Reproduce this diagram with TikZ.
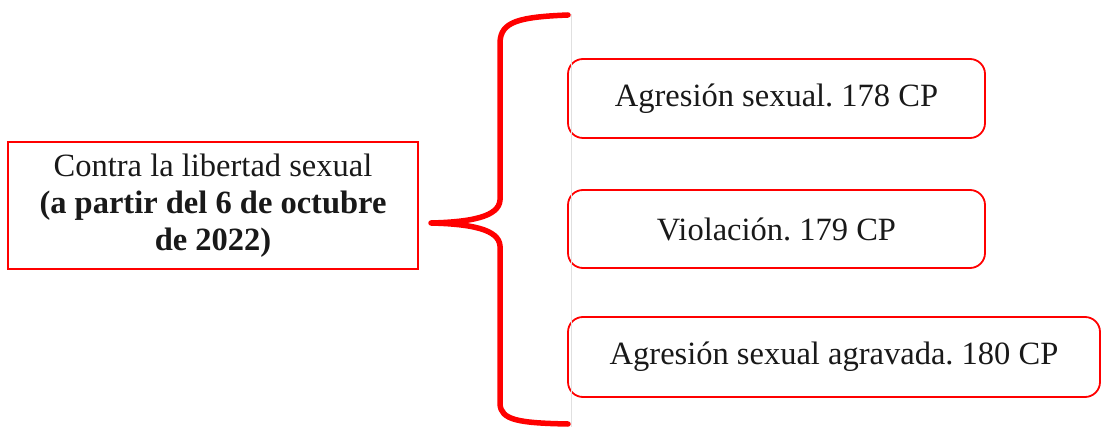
\documentclass[tikz,border=0pt]{standalone}
\usepackage{fontspec}
\setmainfont{Liberation Serif}
\definecolor{brred}{RGB}{255,0,0}
\definecolor{ink}{RGB}{25,25,25}
\begin{document}
\frenchspacing
\begin{tikzpicture}[x=1pt,y=-1pt,
  txt/.style={font=\fontsize{32.5}{37}\selectfont, text=ink, align=center},
  mainbox/.style={txt, draw=brred, line width=1.8pt, inner sep=0pt},
  itembox/.style={txt, draw=brred, line width=1.8pt, rounded corners=15pt, inner sep=0pt},
  bracestroke/.style={draw=brred, line width=5.5pt, line cap=round, line join=round},
  guide/.style={draw=black!12, line width=0.8pt}]
\useasboundingbox (0,0) rectangle (1102,427);

% left box: the crime category
\node[mainbox, minimum width=410pt, minimum height=127pt] (cat) at (213,205.5)
  {Contra la libertad sexual\\\textbf{(a partir del 6 de octubre}\\\textbf{de 2022)}};

% right boxes: the articles
\node[itembox, minimum width=417pt, minimum height=79pt] (a178) at (776.5,98.5)
  {Agresión sexual. 178 CP};
\node[itembox, minimum width=417pt, minimum height=78pt] (a179) at (776.5,229)
  {Violación. 179 CP};
\node[itembox, minimum width=532pt, minimum height=80pt] (a180) at (834,357)
  {Agresión sexual agravada. 180 CP};

% thin guide line behind the brace ends
\coordinate (gtop) at (571,14);
\coordinate (gbot) at (571,427);
\draw[guide] (gtop) -- (gbot);

% curly brace joining the category to the articles
\coordinate (btop) at (568,15);
\coordinate (tip) at (431,223);
\coordinate (bbot) at (568,424);
\draw[bracestroke]
  (btop) .. controls (518,17) and (501,22) .. (500,42)
  -- (500,200) .. controls (499,217) and (470,222) .. (tip)
  .. controls (470,224) and (499,229) .. (500,246)
  -- (500,404) .. controls (501,420) and (518,423) .. (bbot);
\end{tikzpicture}
\end{document}
